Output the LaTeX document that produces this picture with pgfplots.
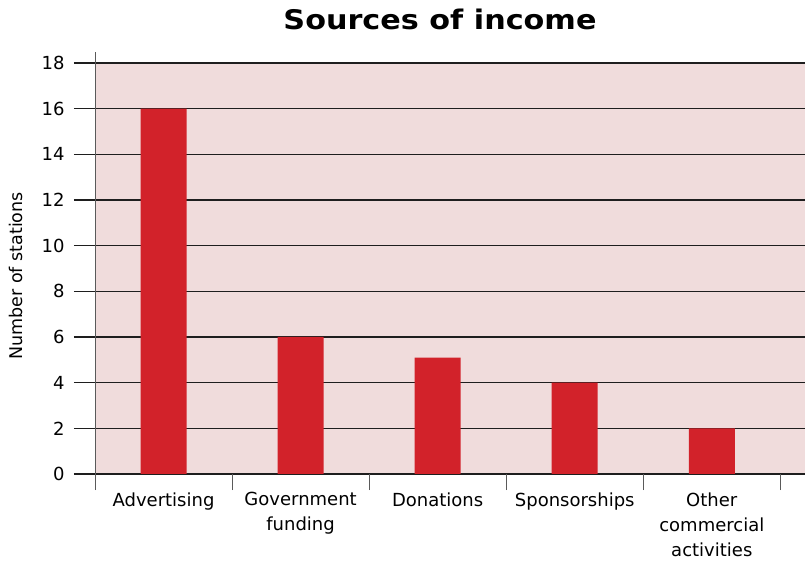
\documentclass[border=0pt]{standalone}
\usepackage{pgfplots}
\pgfplotsset{compat=1.18}
\usepackage{fontspec}
\setmainfont{DejaVu Sans}
\newfontfamily\titlefont[FakeStretch=1.12]{DejaVu Sans Bold}
\definecolor{bgpink}{RGB}{240,220,220}
\definecolor{barred}{RGB}{210,34,42}
\definecolor{gridblack}{RGB}{30,30,30}
\definecolor{axisgray}{RGB}{90,90,90}
\begin{document}
\begin{tikzpicture}[x=1pt,y=1pt]
\useasboundingbox (0,0) rectangle (805,564);
\begin{axis}[
  at={(95pt,90pt)}, anchor=south west,
  scale only axis, width=710pt, height=411pt,
  ymin=0, ymax=18, ytick={0,2,...,18},
  xmin=-0.5, xmax=4.68,
  xtick={0,1,2,3,4},
  xticklabels={Advertising,{Government\\funding},Donations,Sponsorships,{Other\\commercial\\activities}},
  minor xtick={-0.5,0.5,1.5,2.5,3.5,4.5},
  axis x line=bottom, axis y line=left, axis line style={draw=none},
  axis background/.style={fill=bgpink},
  ymajorgrids=true,
  major grid style={gridblack, line width=1.6pt},
  major tick length=21pt, minor tick length=16pt, tick align=outside,
  ytick style={gridblack, line width=1.6pt},
  major x tick style={draw=none},
  minor x tick style={axisgray, line width=1pt},
  /pgf/number format/assume math mode=true,
  tick label style={font=\fontsize{18}{25}\selectfont},
  yticklabel style={xshift=-6pt},
  xticklabel style={align=center, yshift=6pt},
  clip=false,
]
\addplot[ybar, bar width=46pt, fill=barred, draw=none] coordinates {(0,16) (1,6) (2,5.1) (3,4) (4,2)};
\draw[axisgray, line width=1pt] ([yshift=-16pt]rel axis cs:0,0) -- ([yshift=11pt]rel axis cs:0,1);
\end{axis}
\node[rotate=90, font=\fontsize{17.5}{20}\selectfont] at (16,288) {Number of stations};
\node[font=\fontsize{27}{30}\titlefont] at (440,545) {Sources of income};
\end{tikzpicture}
\end{document}
